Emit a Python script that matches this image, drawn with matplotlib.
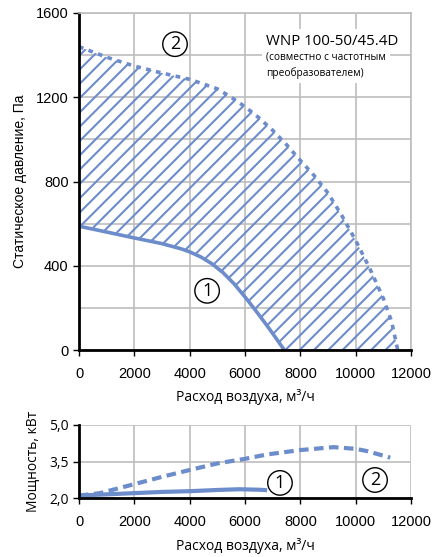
import matplotlib
matplotlib.use("Agg")
import matplotlib.pyplot as plt
import numpy as np
from matplotlib.patches import Polygon

# ---- data ----
flow1 = [0, 1000, 2000, 3000, 3700, 4000, 4400, 4800, 5200, 5600, 6000, 6400, 6800, 7100, 7420]
press1 = [588, 560, 532, 505, 480, 466, 442, 410, 368, 315, 252, 185, 115, 60, 0]

flow2 = [0, 500, 1000, 2000, 3000, 4000, 5000, 5500, 6000, 6500, 7000, 7500, 8000, 8500, 9000,
         9500, 10000, 10500, 11000, 11300, 11520]
press2 = [1440, 1415, 1390, 1348, 1315, 1285, 1240, 1200, 1155, 1103, 1043, 975, 900, 828, 745,
          638, 520, 390, 245, 135, 0]

pflow1 = [0, 1000, 2000, 3000, 4000, 5000, 5800, 6500, 6800]
power1 = [2.10, 2.15, 2.20, 2.25, 2.28, 2.33, 2.36, 2.34, 2.32]

pflow2 = [0, 760, 2000, 3000, 4000, 5000, 6000, 6800, 8000, 9200, 10000, 10400, 11250]
power2 = [2.10, 2.20, 2.57, 2.87, 3.15, 3.42, 3.61, 3.79, 3.97, 4.09, 4.02, 3.93, 3.66]

xticks = [0, 2000, 4000, 6000, 8000, 10000, 12000]
p_yticks = [0, 400, 800, 1200, 1600]
w_yticks = [2.0, 3.5, 5.0]
w_ylabels = ["2,0", "3,5", "5,0"]

title = "WNP 100-50/45.4D"
subtitle = "(совместно с частотным\nпреобразователем)"

BLUE = "#6C8CCB"
GRID = "#BDBDBD"
TICKF = "Liberation Sans"
MYR = "Open Sans"

fig = plt.figure(figsize=(4.37, 5.57), dpi=100)
W, H = 437, 557
def ax_rect(x0, y0, x1, y1):
    return [x0 / W, 1 - y1 / H, (x1 - x0) / W, (y1 - y0) / H]

# ---- top axes ----
ax = fig.add_axes(ax_rect(79, 13, 411, 350))
ax.set_xlim(0, 12000)
ax.set_ylim(0, 1600)
ax.set_xticks(xticks)
ax.set_yticks(p_yticks)
ax.set_yticks(np.arange(0, 1601, 200), minor=True)
ax.grid(True, which="both", color=GRID, lw=1.2)
ax.tick_params(which="minor", length=0)
ax.tick_params(which="major", direction="out", length=4, width=1, color="black", labelsize=10.5)
ax.tick_params(axis="x", pad=8)
for lab in ax.get_xticklabels() + ax.get_yticklabels():
    lab.set_fontfamily(TICKF)
ax.set_axisbelow(True)
for s in ["top", "right"]:
    ax.spines[s].set_color(GRID)
    ax.spines[s].set_linewidth(1.2)
for s in ["left", "bottom"]:
    ax.spines[s].set_color("black")
    ax.spines[s].set_linewidth(2)

# hatched region between curves
poly_x = list(flow2) + list(flow1[::-1])
poly_y = list(press2) + list(press1[::-1])
poly = Polygon(np.column_stack([poly_x, poly_y]), closed=True, facecolor="none", edgecolor="none")
ax.add_patch(poly)
axw, axh = 332.0, 337.0
spacing = 14.3
for k in np.arange(-axh, axw + 1, spacing):
    xs = np.array([k, k + axh + 10]) / axw
    ys = np.array([0, axh + 10]) / axh
    ln, = ax.plot(xs, ys, transform=ax.transAxes, color=BLUE, lw=1.5, solid_capstyle="butt")
    ln.set_clip_path(poly)

ax.plot(flow1, press1, color=BLUE, lw=2.6, solid_capstyle="round", solid_joinstyle="round")
ax.plot(flow2, press2, color=BLUE, lw=2.6, linestyle=(0, (1.3, 1.5)))

ax.set_ylabel("Статическое давление, Па", fontfamily=TICKF, fontsize=10, labelpad=6)
ax.set_xlabel("Расход воздуха, м³/ч", fontfamily=MYR, fontsize=10, labelpad=6)

circ = dict(boxstyle="circle,pad=0.18", fc="white", ec="black", lw=1)
ax.text(3470, 1452, "2", fontsize=13, fontfamily=MYR, ha="center", va="center", bbox=circ)
ax.text(4630, 281, "1", fontsize=13, fontfamily=MYR, ha="center", va="center", bbox=circ)

ax.text(6765, 1465, title, fontsize=10.8, fontfamily=MYR, ha="left", va="center",
        bbox=dict(boxstyle="square,pad=0.3", fc="white", ec="none"), zorder=5)
ax.text(6765, 1418, subtitle, fontsize=7.3, fontfamily=MYR, ha="left", va="top", linespacing=1.5,
        bbox=dict(boxstyle="square,pad=0.4", fc="white", ec="none"), zorder=5)

# ---- bottom axes ----
bx = fig.add_axes(ax_rect(79, 425, 411, 498))
bx.set_xlim(0, 12000)
bx.set_ylim(2.0, 5.0)
bx.set_xticks(xticks)
bx.set_yticks(w_yticks)
bx.set_yticklabels(w_ylabels)
bx.grid(True, color=GRID, lw=1.2)
bx.set_axisbelow(True)
bx.tick_params(direction="out", length=4, width=1, labelsize=10.5)
bx.tick_params(axis="x", pad=8)
for lab in bx.get_xticklabels():
    lab.set_fontfamily(TICKF)
for lab in bx.get_yticklabels():
    lab.set_fontfamily(MYR)
    lab.set_fontsize(10)
for s in ["top", "right"]:
    bx.spines[s].set_visible(False)
for s in ["left", "bottom"]:
    bx.spines[s].set_color("black")
    bx.spines[s].set_linewidth(2)

bx.plot(pflow1, power1, color=BLUE, lw=3, solid_capstyle="butt")
bx.plot(pflow2, power2, color=BLUE, lw=3, linestyle=(0, (2.3, 1.3)))
bx.text(7264, 2.62, "1", fontsize=13, fontfamily=MYR, ha="center", va="center", bbox=circ)
bx.text(10700, 2.74, "2", fontsize=13, fontfamily=MYR, ha="center", va="center", bbox=circ)

bx.set_ylabel("Мощность, кВт", fontfamily=MYR, fontsize=10, labelpad=6)
bx.set_xlabel("Расход воздуха, м³/ч", fontfamily=MYR, fontsize=10, labelpad=7)

fig.savefig("out.png", dpi=100)
